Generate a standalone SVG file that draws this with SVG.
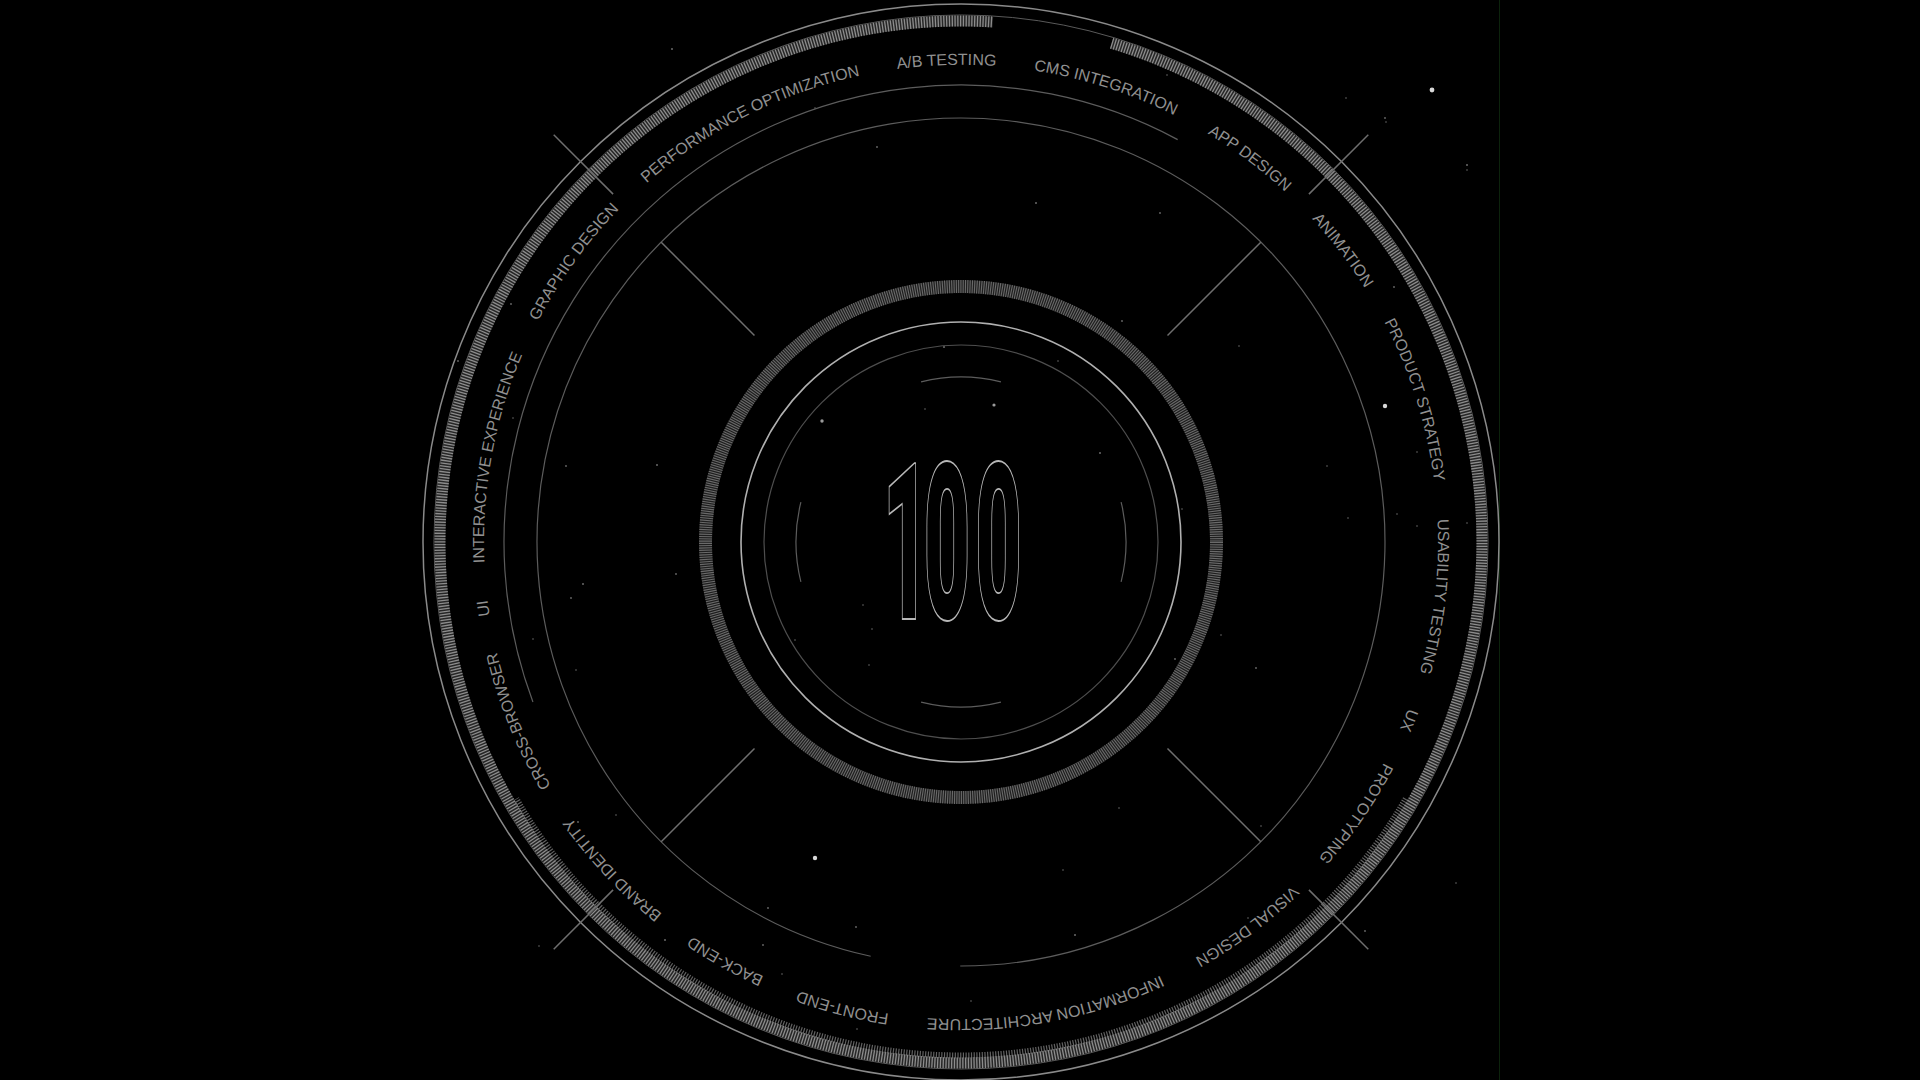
<svg xmlns="http://www.w3.org/2000/svg" width="1920" height="1080" viewBox="0 0 1920 1080">
<style>
.lbl{font-family:"Liberation Sans",Arial,sans-serif;font-size:16px;fill:#909090}
.num{font-family:Roboto,"Open Sans","DejaVu Sans",sans-serif;font-weight:900;font-size:219px;fill:none;stroke:#b8b8b8;stroke-width:1.4}
.thin{fill:none;stroke:#8a8a8a;stroke-width:1.5}
.dim{fill:none;stroke:#5c5c5c;stroke-width:1.2}
.tick{stroke:#6e6e6e;stroke-width:1.5;fill:none}
.star{fill:#6a6a6a}
.bstar{fill:#d8d8d8}
</style>
<defs>
<path id="labelPath" d="M-476.55,20.81 A477,477 0 1,1 476.55,-20.81 A477,477 0 1,1 -476.55,20.81"/>
</defs>
<rect width="1920" height="1080" fill="#000"/>
<line x1="1499.5" y1="0" x2="1499.5" y2="1080" stroke="#0c230c" stroke-width="1"/>
<g id="stars">
<circle class="bstar" cx="1432" cy="90" r="2.4"/>
<circle class="bstar" cx="1385" cy="406" r="2.2"/>
<circle class="bstar" cx="815" cy="858" r="2.2"/>
<circle cx="822" cy="421" r="1.7" fill="#9a9a9a"/>
<circle cx="994" cy="405" r="1.6" fill="#9a9a9a"/>
<circle class="star" cx="944" cy="347" r="1.1"/>
<circle class="star" cx="672" cy="49" r="1"/>
<circle class="star" cx="1467" cy="165" r="1"/>
<circle class="star" cx="1036" cy="203" r="1"/>
<circle class="star" cx="1100" cy="453" r="1"/>
<circle class="star" cx="1122" cy="321" r="0.9"/>
<circle class="star" cx="1175" cy="659" r="0.9"/>
<circle class="star" cx="863" cy="605" r="0.8"/>
<circle class="star" cx="872" cy="629" r="0.8"/>
<circle class="star" cx="869" cy="665" r="0.8"/>
<circle class="star" cx="795" cy="640" r="0.8"/>
<circle class="star" cx="1221" cy="635" r="0.8"/>
<circle class="star" cx="1239" cy="346" r="0.8"/>
<circle class="star" cx="1182" cy="509" r="0.8"/>
<circle class="star" cx="676" cy="574" r="0.9"/>
<circle class="star" cx="1256" cy="668" r="0.9"/>
<circle class="star" cx="1058" cy="361" r="0.8"/>
<circle class="star" cx="925" cy="409" r="0.8"/>
<circle class="star" cx="1385" cy="118" r="0.9"/>
<circle class="star" cx="1160" cy="213" r="0.9"/>
<circle class="star" cx="1394" cy="287" r="0.9"/>
<circle class="star" cx="1327" cy="466" r="0.8"/>
<circle class="star" cx="1417" cy="452" r="0.8"/>
<circle class="star" cx="1153" cy="383" r="0.8"/>
<circle class="star" cx="511" cy="304" r="0.9"/>
<circle class="star" cx="458" cy="361" r="0.9"/>
<circle class="star" cx="513" cy="418" r="0.8"/>
<circle class="star" cx="566" cy="466" r="0.9"/>
<circle class="star" cx="657" cy="465" r="1"/>
<circle class="star" cx="583" cy="584" r="1"/>
<circle class="star" cx="571" cy="598" r="0.9"/>
<circle class="star" cx="533" cy="639" r="0.8"/>
<circle class="star" cx="576" cy="670" r="0.8"/>
<circle class="star" cx="616" cy="815" r="0.8"/>
<circle class="star" cx="578" cy="822" r="0.9"/>
<circle class="star" cx="665" cy="940" r="1"/>
<circle class="star" cx="768" cy="908" r="0.9"/>
<circle class="star" cx="763" cy="945" r="0.9"/>
<circle class="star" cx="539" cy="946" r="0.8"/>
<circle class="star" cx="1119" cy="808" r="0.8"/>
<circle class="star" cx="1261" cy="826" r="0.8"/>
<circle class="star" cx="1456" cy="883" r="0.8"/>
<circle class="star" cx="1365" cy="931" r="0.9"/>
<circle class="star" cx="1248" cy="918" r="0.8"/>
<circle class="star" cx="1063" cy="870" r="0.8"/>
<circle class="star" cx="1075" cy="935" r="1"/>
<circle class="star" cx="856" cy="927" r="0.9"/>
<circle class="star" cx="782" cy="974" r="0.8"/>
<circle class="star" cx="971" cy="1001" r="0.8"/>
<circle class="star" cx="857" cy="1029" r="0.8"/>
<circle class="star" cx="893" cy="1055" r="0.8"/>
<circle class="star" cx="877" cy="147" r="0.9"/>
<circle class="star" cx="815" cy="108" r="0.8"/>
<circle class="star" cx="1348" cy="518" r="0.8"/>
<circle class="star" cx="1397" cy="514" r="0.8"/>
<circle class="star" cx="1417" cy="526" r="0.8"/>
<circle class="star" cx="1467" cy="523" r="0.8"/>
<circle class="star" cx="1386" cy="122" r="0.8"/>
<circle class="star" cx="1467" cy="170" r="0.8"/>
<circle class="star" cx="1167" cy="75" r="0.8"/>
<circle class="star" cx="1346" cy="98" r="0.8"/>
</g>
<g id="dial" transform="translate(961,542)">
<g id="outer-ring">
<circle class="thin" r="538"/>
<circle r="527" fill="none" stroke="#5a5a5a" stroke-width="1"/>
<path d="M150.58,-498.76 A521,521 0 1,1 31.81,-520.03" fill="none" stroke="#262626" stroke-width="11"/>
<path d="M150.58,-498.76 A521,521 0 1,1 31.81,-520.03" fill="none" stroke="#8c8c8c" stroke-width="11" stroke-dasharray="1.3 1.5"/>
<path d="M444.7,256.75 A513.5,513.5 0 0,1 -444.7,256.75" fill="none" stroke="#7a7a7a" stroke-width="6" stroke-dasharray="1.2 1.5" opacity="0.8"/>
</g>
<g id="text-ring-arcs">
<path d="M-428.06,160.05 A457,457 0 0,1 216.66,-402.38" class="dim"/>
<path d="M-90.33,414.27 A424,424 0 1,1 -0.74,424" class="dim"/>
</g>
<g id="inner-ring">
<circle r="255.5" fill="none" stroke="#1e1e1e" stroke-width="13"/>
<circle r="255.5" fill="none" stroke="#6a6a6a" stroke-width="13" stroke-dasharray="1.1 1.2"/>
<circle r="220" fill="none" stroke="#b0b0b0" stroke-width="1.6"/>
<circle r="197" fill="none" stroke="#4e4e4e" stroke-width="1.2"/>
<path d="M-39.92,-160.1 A165,165 0 0,1 39.92,-160.1" class="dim"/>
<path d="M160.1,-39.92 A165,165 0 0,1 160.1,39.92" class="dim"/>
<path d="M39.92,160.1 A165,165 0 0,1 -39.92,160.1" class="dim"/>
<path d="M-160.1,39.92 A165,165 0 0,1 -160.1,-39.92" class="dim"/>
</g>
<g id="connectors">
<line class="tick" x1="-347.9" y1="-347.9" x2="-407.3" y2="-407.3"/>
<line class="tick" x1="347.9" y1="-347.9" x2="407.3" y2="-407.3"/>
<line class="tick" x1="347.9" y1="347.9" x2="407.3" y2="407.3"/>
<line class="tick" x1="-347.9" y1="347.9" x2="-407.3" y2="407.3"/>
<line class="tick" x1="-206.5" y1="-206.5" x2="-299.8" y2="-299.8"/>
<line class="tick" x1="206.5" y1="-206.5" x2="299.8" y2="-299.8"/>
<line class="tick" x1="206.5" y1="206.5" x2="299.8" y2="299.8"/>
<line class="tick" x1="-206.5" y1="206.5" x2="-299.8" y2="299.8"/>
</g>
<g id="labels" class="lbl" text-anchor="middle">
<text id="l-interactive"><textPath href="#labelPath" startOffset="106.69">INTERACTIVE EXPERIENCE</textPath></text>
<text id="l-graphic"><textPath href="#labelPath" startOffset="319.77">GRAPHIC DESIGN</textPath></text>
<text id="l-perf"><textPath href="#labelPath" startOffset="547.53">PERFORMANCE OPTIMIZATION</textPath></text>
<text id="l-ab"><textPath href="#labelPath" startOffset="755.71">A/B TESTING</textPath></text>
<text id="l-cms"><textPath href="#labelPath" startOffset="917.24">CMS INTEGRATION</textPath></text>
<text id="l-app"><textPath href="#labelPath" startOffset="1077.87">APP DESIGN</textPath></text>
<text id="l-anim"><textPath href="#labelPath" startOffset="1208.28">ANIMATION</textPath></text>
<text id="l-product"><textPath href="#labelPath" startOffset="1374.66">PRODUCT STRATEGY</textPath></text>
<text id="l-usability"><textPath href="#labelPath" startOffset="1574.44">USABILITY TESTING</textPath></text>
<text id="l-ux"><textPath href="#labelPath" startOffset="1700.41">UX</textPath></text>
<text id="l-proto"><textPath href="#labelPath" startOffset="1806.83">PROTOTYPING</textPath></text>
<text id="l-visual"><textPath href="#labelPath" startOffset="1963.43">VISUAL DESIGN</textPath></text>
<text id="l-info"><textPath href="#labelPath" startOffset="2182.71">INFORMATION ARCHITECTURE</textPath></text>
<text id="l-front"><textPath href="#labelPath" startOffset="2387.76">FRONT-END</textPath></text>
<text id="l-back"><textPath href="#labelPath" startOffset="2513.30">BACK-END</textPath></text>
<text id="l-brand"><textPath href="#labelPath" startOffset="2658.33">BRAND IDENTITY</textPath></text>
<text id="l-cross"><textPath href="#labelPath" startOffset="2834.49">CROSS-BROWSER</textPath></text>
<text id="l-ui"><textPath href="#labelPath" startOffset="2952.05">UI</textPath></text>
</g>
</g>
<g id="center-number" transform="translate(947,619) scale(0.37,1)">
<text class="num" text-anchor="middle" x="-110.8 0 139.2" y="0" vector-effect="non-scaling-stroke">100</text>
</g>
</svg>
